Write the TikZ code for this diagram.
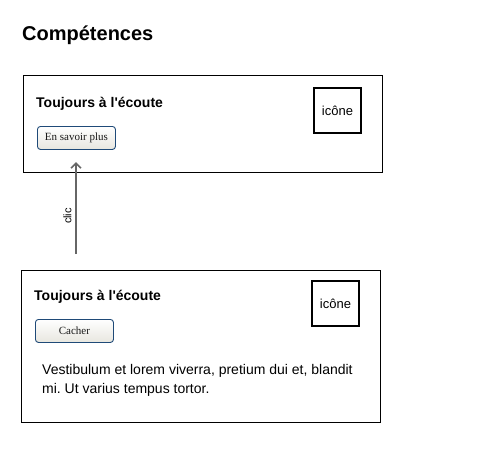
\documentclass[tikz,border=0pt]{standalone}
\usepackage{fontspec}
\setmainfont{Liberation Sans}[Ligatures=TeXOff]
\newfontfamily\btnfont{Liberation Serif}
\usetikzlibrary{arrows.meta}
\definecolor{btnborder}{HTML}{1F4A78}
\definecolor{btnbot}{HTML}{E8E6DF}
\definecolor{arrowgray}{HTML}{666666}
\begin{document}
\frenchspacing
\begin{tikzpicture}[x=1pt,y=-1pt,
  card/.style={draw=black, line width=0.9pt, fill=white, anchor=north west, inner sep=0pt},
  cardtitle/.style={font=\bfseries\fontsize{14}{16}\selectfont, anchor=west, inner sep=0pt},
  iconbox/.style={draw=black, line width=2pt, anchor=north west, minimum width=47pt, minimum height=45pt, inner sep=0pt, font=\fontsize{13}{15}\selectfont},
  btn/.style={draw=btnborder, line width=0.9pt, rounded corners=3pt, top color=white, bottom color=btnbot, anchor=north west, minimum width=78pt, minimum height=23pt, inner sep=0pt, font=\btnfont\fontsize{11}{13}\selectfont, text=black!90},
  link/.style={draw=arrowgray, line width=1.8pt, -{Straight Barb[length=5pt,width=10pt,line width=1.6pt]}}
]
\useasboundingbox (0,0) rectangle (491,450);
\node[anchor=west, inner sep=0pt, font=\bfseries\fontsize{20}{24}\selectfont] (title) at (22,35) {Compétences};

% card 1
\node[card, minimum width=359pt, minimum height=97pt] (card1) at (23,75) {};
\node[cardtitle] (t1) at (36,104) {Toujours à l'écoute};
\node[iconbox] (i1) at (313,87) {icône};
\node[btn] (b1) at (37,126) {En savoir plus};

% card 2
\node[card, minimum width=359pt, minimum height=152pt] (card2) at (21,270) {};
\node[cardtitle] (t2) at (34,297) {Toujours à l'écoute};
\node[iconbox] (i2) at (311,280) {icône};
\node[btn] (b2) at (35,319) {Cacher};
\node[anchor=north west, inner sep=0pt, align=left, font=\fontsize{14}{19}\selectfont] (txt) at (42,364)
  {Vestibulum et lorem viverra, pretium dui et, blandit\\mi. Ut varius tempus tortor.};

% arrow
\coordinate (a0) at (76,254);
\coordinate (a1) at (76,162);
\draw[link] (a0) -- (a1);
\node[rotate=90, font=\fontsize{11}{13}\selectfont, inner sep=0pt] (clic) at (67.5,216) {clic};
\end{tikzpicture}
\end{document}
